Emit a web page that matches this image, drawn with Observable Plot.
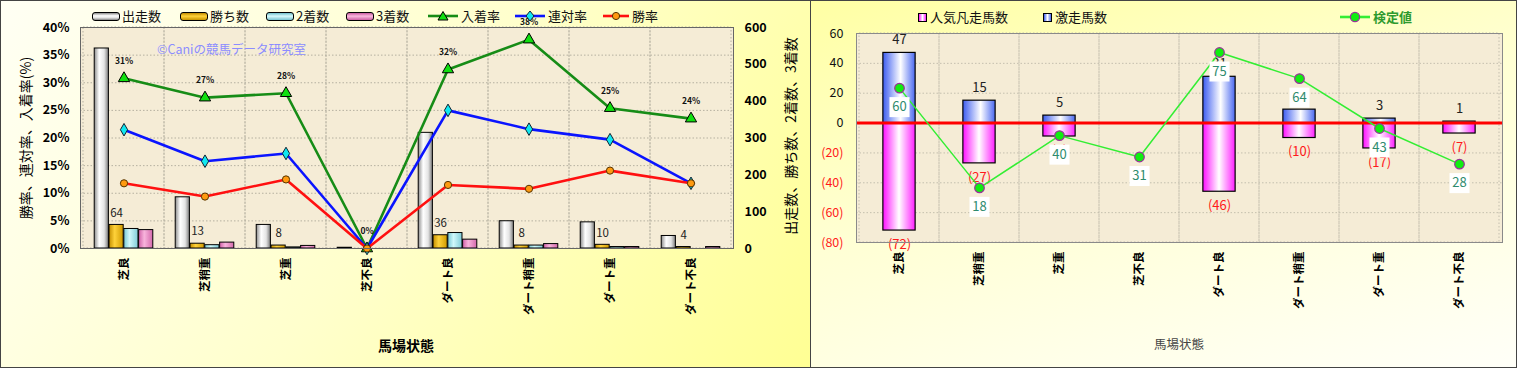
<!DOCTYPE html>
<html><head><meta charset="utf-8">
<script src="https://cdn.jsdelivr.net/npm/d3@7"></script>
<script src="https://cdn.jsdelivr.net/npm/@observablehq/plot@0.6"></script>
<style>
html,body{margin:0;padding:0;}
body{width:1518px;height:369px;overflow:hidden;position:relative;background:#fff;font-family:"Noto Sans CJK JP","Noto Sans",sans-serif;}
.panel{position:absolute;top:0;box-sizing:border-box;border:1.5px solid #444;}
#pl{left:0;width:811px;height:368px;background:linear-gradient(125deg,#fffff4 0%,#ffffcc 50%,#ffff94 100%);}
#pr{left:810px;width:707px;height:368px;background:linear-gradient(165deg,#ffffa4 0%,#ffffd4 45%,#fffff8 100%);}
.holder{position:absolute;top:0;}
.leg{position:absolute;font-size:13px;line-height:16px;color:#111;white-space:nowrap;display:flex;align-items:center;}
.sw{display:inline-block;box-sizing:border-box;border:1px solid #000;}
.title{position:absolute;white-space:nowrap;transform:translate(-50%,-50%);}
.rot{transform:translate(-50%,-50%) rotate(-90deg);}
</style>
</head><body>
<div id="pl" class="panel"></div>
<div id="pr" class="panel"></div>
<div id="hl" class="holder" style="left:0"></div>
<div id="hr" class="holder" style="left:810px"></div>
<script>
// ---------- data ----------
const cats = ["芝良","芝稍重","芝重","芝不良","ダート良","ダート稍重","ダート重","ダート不良"];
// left chart (counts on right axis, rates on left axis)
const runs    = [543, 139, 64, 2, 314, 74, 71, 34];
const wins    = [64, 13, 8, 0, 36, 8, 10, 4];
const seconds = [53, 9, 3, 0, 42, 8, 4, 0];
const thirds  = [50, 16, 7, 0, 24, 12, 4, 4];
const placeRate  = [30.8, 27.3, 28.1, 0, 32.4, 37.8, 25.4, 23.5];
const rentaiRate = [21.5, 15.8, 17.2, 0, 25.0, 21.6, 19.7, 11.8];
const winRate    = [11.8, 9.4, 12.5, 0, 11.5, 10.8, 14.1, 11.8];
const pctTicks   = [0, 5, 10, 15, 20, 25, 30, 35, 40];
const countTicks = [0, 100, 200, 300, 400, 500, 600];
const seriesL = ["出走数","勝ち数","2着数","3着数","入着率","連対率","勝率"];
// right chart
const gekiso = [47, 15, 5, 0, 31, 9, 3, 1];          // 激走馬数
const bonso  = [-72, -27, -9, 0, -46, -10, -17, -7]; // 人気凡走馬数
const kentei = [60, 18, 40, 31, 75, 64, 43, 28];     // 検定値 (secondary hidden axis)
const diffTicks = [-80, -60, -40, -20, 0, 20, 40, 60];
const kenteiDomain = [-5, 83];
const seriesR = ["人気凡走馬数","激走馬数","検定値"];
const xTitle = "馬場状態";

const FONT = "'Noto Sans CJK JP','Noto Sans',sans-serif";

function addGrad(svg, id, stops) {
  let defs = d3.select(svg).select("defs.custom");
  if (defs.empty()) defs = d3.select(svg).insert("defs", ":first-child").attr("class", "custom");
  const g = defs.append("linearGradient").attr("id", id).attr("x1", 0).attr("y1", 0).attr("x2", 1).attr("y2", 0);
  stops.forEach(([o, c]) => g.append("stop").attr("offset", o).attr("stop-color", c));
}

// ---------- left chart ----------
const rowsL = cats.map((c, i) => ({cat: c, runs: runs[i], wins: wins[i], seconds: seconds[i], thirds: thirds[i],
  place: placeRate[i], rentai: rentaiRate[i], win: winRate[i]}));
const K = countTicks[countTicks.length - 1] / pctTicks[pctTicks.length - 1];
const WL = 805, mlL = 80, mrL = 72;
const bw = (WL - mlL - mrL) / cats.length;
const barW = 14.8, off = (bw - 4 * barW) / 2;
function barL(k, field, grad) {
  return Plot.barY(rowsL.filter(d => d[field] > 0), {x: "cat", y: d => d[field] / K, fill: `url(#${grad})`,
    stroke: "#000", strokeWidth: 1, insetLeft: off + barW * k, insetRight: bw - off - barW * (k + 1)});
}
const svgL = Plot.plot({
  width: WL, height: 369, marginLeft: mlL, marginRight: mrL, marginTop: 27, marginBottom: 121,
  style: {background: "transparent", fontFamily: FONT, overflow: "visible"},
  x: {domain: cats, padding: 0, axis: null},
  y: {domain: [0, 40], axis: null},
  marks: [
    Plot.frame({fill: "#f5ecd6", stroke: "none"}),
    Plot.gridY({ticks: pctTicks, stroke: "#b5b0a0", strokeOpacity: 1, strokeDasharray: "1.5,2"}),
    Plot.barY(cats, {x: d => d, y1: 0, y2: 40, fill: "none", stroke: "#b5b0a0", strokeDasharray: "1.5,2"}),
    barL(0, "runs", "gRuns"), barL(1, "wins", "gWins"), barL(2, "seconds", "gSec"), barL(3, "thirds", "gThi"),
    Plot.text(rowsL.filter(d => d.wins > 0), {x: "cat", y: d => d.wins / K, text: d => String(d.wins),
      dx: -(bw / 2 - off - barW * 1.5), dy: -12, fontSize: 11.5, fill: "#222"}),
    Plot.line(rowsL, {x: "cat", y: "place", stroke: "#168c16", strokeWidth: 2.6}),
    Plot.line(rowsL, {x: "cat", y: "rentai", stroke: "#0a14ff", strokeWidth: 2.6}),
    Plot.line(rowsL, {x: "cat", y: "win", stroke: "#ff1010", strokeWidth: 2.6}),
    Plot.dot(rowsL, {x: "cat", y: "place", symbol: "triangle", r: 4.2, fill: "#10e010", stroke: "#000", strokeWidth: 1}),
    Plot.dot(rowsL, {x: "cat", y: "rentai", symbol: "diamond", r: 3.8, fill: "#10e8f0", stroke: "#123", strokeWidth: 1}),
    Plot.dot(rowsL, {x: "cat", y: "win", r: 3.6, fill: "#ff9a10", stroke: "#553300", strokeWidth: 1}),
    Plot.text(rowsL, {x: "cat", y: "place", text: d => Math.round(d.place) + "%", dy: -17, fontSize: 8.5, fontWeight: "bold", fill: "#111"}),
    Plot.axisY({ticks: pctTicks, anchor: "left", tickFormat: d => d + "%", tickSize: 0, tickPadding: 11, fontSize: 12.5, fontWeight: "bold", label: null}),
    Plot.axisY({ticks: countTicks.map(t => t / K), anchor: "right", tickFormat: d => String(Math.round(d * K)), tickSize: 0, tickPadding: 11, fontSize: 12.5, fontWeight: "bold", label: null}),
    Plot.axisX({tickRotate: -90, tickSize: 0, tickPadding: 9, fontSize: 11.5, fontWeight: "bold", label: null}),
    Plot.frame({stroke: "#666"})
  ]
});
addGrad(svgL, "gRuns", [[0, "#8c8c8c"], [0.35, "#ffffff"], [0.7, "#e4e4e4"], [1, "#7c7c7c"]]);
addGrad(svgL, "gWins", [[0, "#c48e00"], [0.4, "#ffd23a"], [1, "#d09a00"]]);
addGrad(svgL, "gSec", [[0, "#78c8d4"], [0.4, "#d0f8fb"], [1, "#80ccd8"]]);
addGrad(svgL, "gThi", [[0, "#d060a8"], [0.4, "#f8b4dc"], [1, "#d468ac"]]);
document.getElementById("hl").appendChild(svgL);

// ---------- right chart ----------
const rowsR = cats.map((c, i) => ({cat: c, up: gekiso[i], down: bonso[i], k: kentei[i]}));
const k2y = d3.scaleLinear().domain(kenteiDomain).range([diffTicks[0], diffTicks[diffTicks.length - 1]]);
const WR = 708, mlR = 46, mrR = 16;
const bwR = (WR - mlR - mrR) / cats.length;
const insR = (bwR - 33) / 2;
const svgR = Plot.plot({
  width: WR, height: 369, marginLeft: mlR, marginRight: mrR, marginTop: 33, marginBottom: 127,
  style: {background: "transparent", fontFamily: FONT, overflow: "visible"},
  x: {domain: cats, padding: 0, axis: null},
  y: {domain: [-80, 60], axis: null},
  marks: [
    Plot.frame({fill: "#f5ecd6", stroke: "none"}),
    Plot.gridY({ticks: diffTicks, stroke: "#c4bfae", strokeOpacity: 1, strokeDasharray: "1.5,2"}),
    Plot.barY(cats, {x: d => d, y1: -80, y2: 60, fill: "none", stroke: "#c4bfae", strokeDasharray: "1.5,2"}),
    Plot.barY(rowsR.filter(d => d.up > 0), {x: "cat", y: "up", fill: "url(#gBlue)", stroke: "#000", strokeWidth: 1.2, insetLeft: insR, insetRight: insR}),
    Plot.barY(rowsR.filter(d => d.down < 0), {x: "cat", y: "down", fill: "url(#gPink)", stroke: "#000", strokeWidth: 1.2, insetLeft: insR, insetRight: insR}),
    Plot.ruleY([0], {stroke: "#ff0000", strokeWidth: 3}),
    Plot.text(rowsR.filter(d => d.up > 0), {x: "cat", y: "up", text: d => String(d.up), dy: -13, fontSize: 13, fill: "#222"}),
    Plot.text(rowsR.filter(d => d.down < 0), {x: "cat", y: "down", text: d => `(${-d.down})`, dy: 14, fontSize: 13, fill: "#ff1a1a"}),
    Plot.line(rowsR, {x: "cat", y: d => k2y(d.k), stroke: "#33ee33", strokeWidth: 1.5}),
    Plot.dot(rowsR, {x: "cat", y: d => k2y(d.k), symbol: "square", r: 11.3, fill: "#ffffff", dy: 19}),
    Plot.text(rowsR, {x: "cat", y: d => k2y(d.k), text: d => String(d.k), dy: 19, fontSize: 13, fill: "#2e8b6e"}),
    Plot.dot(rowsR, {x: "cat", y: d => k2y(d.k), r: 4.8, fill: "#10ee10", stroke: "#993399", strokeWidth: 1.2}),
    Plot.axisY({ticks: diffTicks.filter(t => t >= 0), anchor: "left", tickSize: 0, tickPadding: 13, fontSize: 12.5, fill: "#111", label: null}),
    Plot.axisY({ticks: diffTicks.filter(t => t < 0), anchor: "left", tickFormat: d => `(${-d})`, tickSize: 0, tickPadding: 13, fontSize: 12.5, fill: "#ff1a1a", label: null}),
    Plot.axisX({tickRotate: -90, tickSize: 0, tickPadding: 9, fontSize: 11.5, fontWeight: "bold", label: null}),
    Plot.frame({stroke: "#8a8a8a"})
  ]
});
addGrad(svgR, "gBlue", [[0, "#3c5cf0"], [0.55, "#ffffff"], [1, "#4a68f0"]]);
addGrad(svgR, "gPink", [[0, "#ff10ff"], [0.5, "#ffffff"], [1, "#ff20ff"]]);
document.getElementById("hr").appendChild(svgR);

// ---------- legends & titles (HTML) ----------
function el(html, style, cls) {
  const d = document.createElement("div");
  d.className = cls || "leg"; d.innerHTML = html; Object.assign(d.style, style);
  document.body.appendChild(d); return d;
}
const barSw = (bg) => `<span class="sw" style="width:28px;height:9px;border-radius:3px;margin-right:2px;background:${bg}"></span>`;
const lineSw = (col, marker, w = 30) => `<svg width="${w}" height="12" style="margin-right:3px"><line x1="0" y1="6" x2="${w}" y2="6" stroke="${col}" stroke-width="2.6"/>${marker}</svg>`;
const legL = [
  [92, barSw("linear-gradient(180deg,#8c8c8c,#ffffff 40%,#e0e0e0 70%,#808080)")],
  [180, barSw("linear-gradient(180deg,#c08a00,#ffd23a 45%,#c89400)")],
  [266, barSw("linear-gradient(180deg,#70c0cc,#d8fafc 45%,#78c4d0)")],
  [346, barSw("linear-gradient(180deg,#c85aa0,#fab8de 45%,#cc60a4)")],
  [428, lineSw("#168c16", '<path d="M15,1.5 L20,10 L10,10 Z" fill="#10e010" stroke="#000" stroke-width="1"/>')],
  [515, lineSw("#0a14ff", '<path d="M15,1 L19,6 L15,11 L11,6 Z" fill="#10e8f0" stroke="#123" stroke-width="1"/>')],
  [603, lineSw("#ff1010", '<circle cx="13" cy="6" r="3.6" fill="#ff9a10" stroke="#553300" stroke-width="1"/>', 26)]
];
legL.forEach(([x, sw], i) => el(sw + seriesL[i], {left: x + "px", top: "8px"}));

el(`<span class="sw" style="width:9px;height:9px;margin-right:3px;background:linear-gradient(90deg,#ff10ff,#fff,#ff20ff)"></span>${seriesR[0]}`, {left: "918px", top: "9px"});
el(`<span class="sw" style="width:9px;height:9px;margin-right:3px;background:linear-gradient(90deg,#3c5cf0,#fff,#4a68f0)"></span>${seriesR[1]}`, {left: "1043px", top: "9px"});
el(lineSw("#33ee33", '<circle cx="15" cy="6" r="4.6" fill="#10ee10" stroke="#993399" stroke-width="1.2"/>', 30) + `<span style="color:#2e9a2e;font-weight:600">${seriesR[2]}</span>`, {left: "1340px", top: "9px"});

el("©Caniの競馬データ研究室", {left: "157px", top: "41px", fontSize: "12.5px", color: "#8c8cff"});
el("勝率、連対率、入着率(%)", {left: "25px", top: "138px", fontSize: "14px"}, "title rot");
el("出走数、勝ち数、2着数、3着数", {left: "790px", top: "136px", fontSize: "14px"}, "title rot");
el(xTitle, {left: "406px", top: "345px", fontSize: "14px", fontWeight: "bold"}, "title");
el(xTitle, {left: "1179px", top: "343px", fontSize: "12.5px", color: "#444"}, "title");
</script>
</body></html>
